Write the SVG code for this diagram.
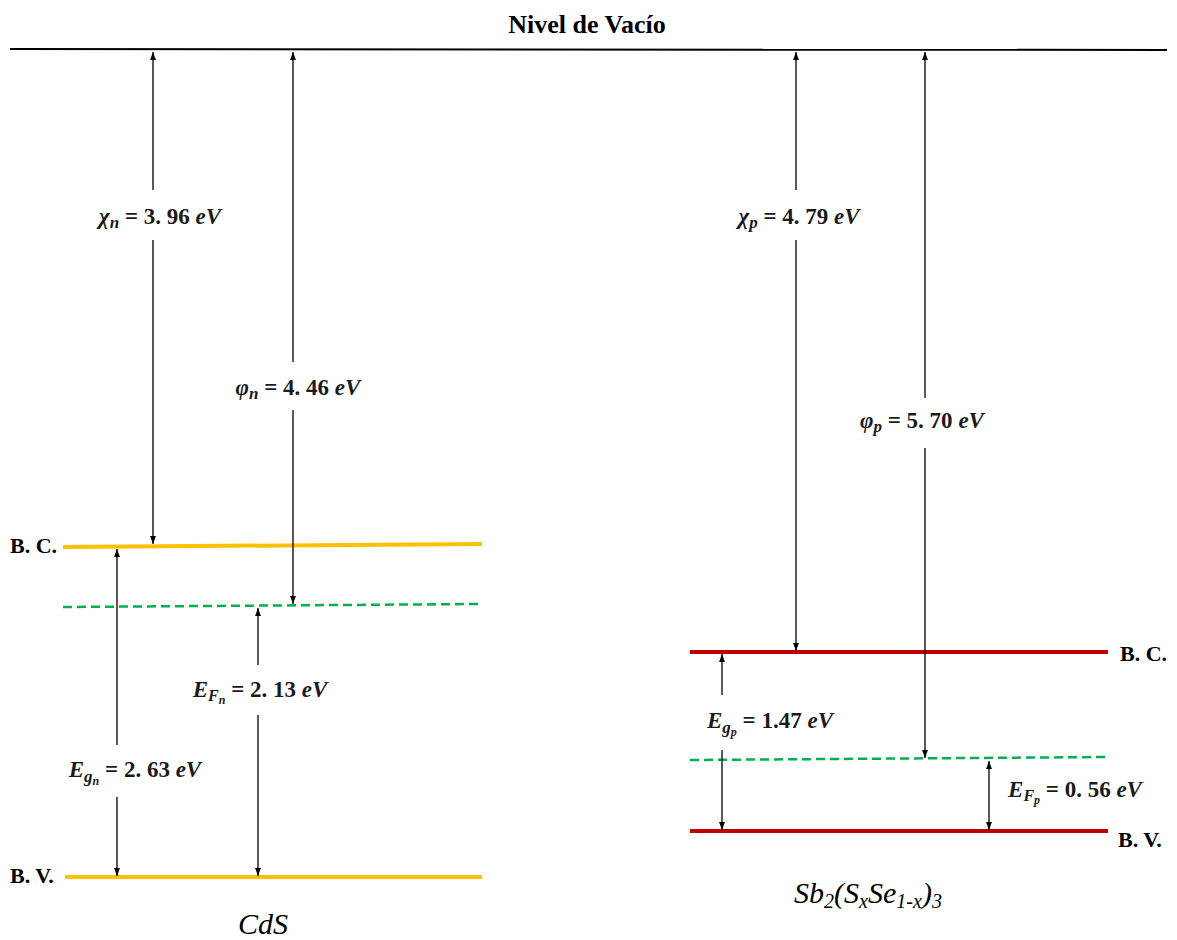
<svg xmlns="http://www.w3.org/2000/svg" width="1177" height="940" viewBox="0 0 1177 940">
<style>
.title{font-family:"Liberation Serif",serif;font-weight:bold;font-size:26px;fill:#000}
.band{font-family:"Liberation Serif",serif;font-weight:bold;font-size:22px;fill:#000}
.eq{font-family:"Liberation Serif",serif;font-weight:bold;font-size:23px;fill:#1a1a1a}
.it{font-style:italic}
.mat{font-family:"Liberation Serif",serif;font-style:italic;font-size:30px;fill:#000}
.cds{stroke:#FFC000;stroke-width:4;fill:none}
.sb{stroke:#C00000;stroke-width:4;fill:none}
.ef{stroke:#00B050;stroke-width:2.5;stroke-dasharray:9,5;fill:none}
.arr{stroke:#000;stroke-width:1.3;fill:none}
</style>
<defs>
<marker id="ah" markerWidth="8" markerHeight="11" refX="11" refY="4" orient="auto-start-reverse" markerUnits="userSpaceOnUse" viewBox="0 0 11 8">
<path d="M0,0 L11,4 L0,8 z" fill="#000"/>
</marker>
</defs>
<rect width="1177" height="940" fill="#fff"/>

<g id="vacuum">
<line x1="10" y1="49" x2="1167" y2="50" stroke="#000" stroke-width="2"/>
<text class="title" x="587" y="33" text-anchor="middle">Nivel de Vacío</text>
</g>

<g id="cds-bc">
<line class="cds" x1="63" y1="547" x2="482" y2="544"/>
<text class="band" x="10" y="553">B. C.</text>
</g>
<g id="cds-ef">
<line class="ef" x1="63" y1="607" x2="480" y2="604"/>
</g>
<g id="cds-bv">
<line class="cds" x1="65" y1="877" x2="482" y2="877"/>
<text class="band" x="10" y="883">B. V.</text>
</g>
<g id="cds-label">
<text class="mat" x="263" y="934" text-anchor="middle">CdS</text>
</g>

<g id="sb-bc">
<line class="sb" x1="690" y1="652" x2="1108" y2="652"/>
<text class="band" x="1120" y="661">B. C.</text>
</g>
<g id="sb-ef">
<line class="ef" x1="690" y1="760" x2="1108" y2="757"/>
</g>
<g id="sb-bv">
<line class="sb" x1="690" y1="831" x2="1108" y2="831"/>
<text class="band" x="1118" y="847">B. V.</text>
</g>
<g id="sb-label">
<text class="mat" x="868" y="903" text-anchor="middle" font-size="28">Sb<tspan font-size="20" dy="5">2</tspan><tspan dy="-5">(S</tspan><tspan font-size="20" dy="5">x</tspan><tspan dy="-5">Se</tspan><tspan font-size="20" dy="5">1-x</tspan><tspan dy="-5">)</tspan><tspan font-size="20" dy="5">3</tspan></text>
</g>

<g id="connectors">
<line class="arr" x1="153" y1="52" x2="153" y2="190" marker-start="url(#ah)"/>
<line class="arr" x1="153" y1="240" x2="153" y2="544" marker-end="url(#ah)"/>
<line class="arr" x1="293" y1="52" x2="293" y2="362" marker-start="url(#ah)"/>
<line class="arr" x1="293" y1="410" x2="293" y2="604" marker-end="url(#ah)"/>
<line class="arr" x1="117" y1="549" x2="117" y2="745" marker-start="url(#ah)"/>
<line class="arr" x1="117" y1="797" x2="117" y2="876" marker-end="url(#ah)"/>
<line class="arr" x1="258" y1="608" x2="258" y2="665" marker-start="url(#ah)"/>
<line class="arr" x1="258" y1="715" x2="258" y2="876" marker-end="url(#ah)"/>
<line class="arr" x1="796" y1="52" x2="796" y2="190" marker-start="url(#ah)"/>
<line class="arr" x1="796" y1="240" x2="796" y2="651" marker-end="url(#ah)"/>
<line class="arr" x1="925" y1="52" x2="925" y2="398" marker-start="url(#ah)"/>
<line class="arr" x1="925" y1="448" x2="925" y2="758" marker-end="url(#ah)"/>
<line class="arr" x1="722" y1="654" x2="722" y2="695" marker-start="url(#ah)"/>
<line class="arr" x1="722" y1="750" x2="722" y2="830" marker-end="url(#ah)"/>
<line class="arr" x1="989" y1="761" x2="989" y2="830" marker-start="url(#ah)" marker-end="url(#ah)"/>
</g>

<g id="labels">
<text class="eq" x="160" y="224" text-anchor="middle"><tspan class="it">χ</tspan><tspan class="it" font-size="17" dy="4">n</tspan><tspan dy="-4"> = 3. 96 </tspan><tspan class="it">eV</tspan></text>
<text class="eq" x="298" y="395" text-anchor="middle"><tspan class="it">φ</tspan><tspan class="it" font-size="17" dy="4">n</tspan><tspan dy="-4"> = 4. 46 </tspan><tspan class="it">eV</tspan></text>
<text class="eq" x="260" y="697" text-anchor="middle"><tspan class="it">E</tspan><tspan class="it" font-size="16" dy="4">F</tspan><tspan class="it" font-size="12" dy="3">n</tspan><tspan dy="-7"> = 2. 13 </tspan><tspan class="it">eV</tspan></text>
<text class="eq" x="135" y="777" text-anchor="middle"><tspan class="it">E</tspan><tspan class="it" font-size="17" dy="5">g</tspan><tspan class="it" font-size="12" dy="3">n</tspan><tspan dy="-8"> = 2. 63 </tspan><tspan class="it">eV</tspan></text>
<text class="eq" x="799" y="224" text-anchor="middle"><tspan class="it">χ</tspan><tspan class="it" font-size="17" dy="4">p</tspan><tspan dy="-4"> = 4. 79 </tspan><tspan class="it">eV</tspan></text>
<text class="eq" x="922" y="428" text-anchor="middle"><tspan class="it">φ</tspan><tspan class="it" font-size="17" dy="4">p</tspan><tspan dy="-4"> = 5. 70 </tspan><tspan class="it">eV</tspan></text>
<text class="eq" x="770" y="728" text-anchor="middle"><tspan class="it">E</tspan><tspan class="it" font-size="17" dy="5">g</tspan><tspan class="it" font-size="12" dy="3">p</tspan><tspan dy="-8"> = 1.47 </tspan><tspan class="it">eV</tspan></text>
<text class="eq" x="1075" y="797" text-anchor="middle"><tspan class="it">E</tspan><tspan class="it" font-size="16" dy="4">F</tspan><tspan class="it" font-size="12" dy="3">p</tspan><tspan dy="-7"> = 0. 56 </tspan><tspan class="it">eV</tspan></text>
</g>
</svg>
